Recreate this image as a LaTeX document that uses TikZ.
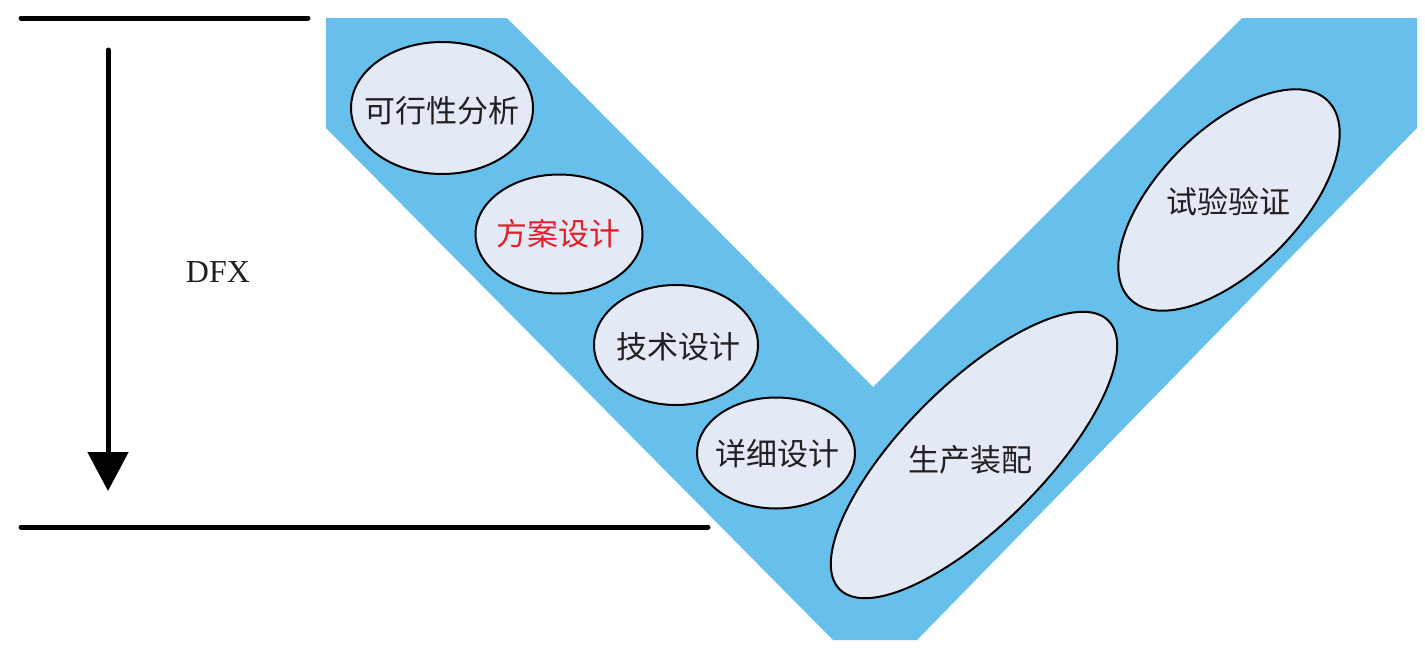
\documentclass[tikz,border=0pt]{standalone}
\usepackage{fontspec}
\setmainfont{Liberation Serif}
\newfontfamily\cjk{Noto Sans CJK SC}
\usepackage{xcolor}
\usetikzlibrary{arrows.meta}
\usetikzlibrary{shapes.geometric}
\definecolor{vband}{RGB}{103,192,235}
\definecolor{vfill}{RGB}{228,234,245}
\definecolor{vred}{RGB}{226,32,44}
\definecolor{vtext}{RGB}{35,31,32}

\begin{document}
\begin{tikzpicture}[x=0.5pt,y=-0.5pt,
        phase/.style={ellipse,draw=black,line width=1pt,fill=vfill,inner sep=0pt},
        phasetext/.style={font=\cjk\fontsize{15.5}{18}\selectfont,text=vtext,inner sep=0pt},
        rule/.style={line width=2.5pt,line cap=round}]
        \useasboundingbox (0,0) rectangle (1425,648);
        % the V band
        \fill[vband] (326,18) -- (507,18) -- (873,387) -- (1242,18) -- (1417,18) -- (1417,128)
            -- (917,640) -- (833,640) -- (326,128) -- cycle;
        % upper and lower levels, DFX arrow
        \coordinate (topl) at (21,18);
        \coordinate (topr) at (308,18);
        \coordinate (botl) at (21,527);
        \coordinate (botr) at (708,527);
        \coordinate (arrs) at (108,50);
        \coordinate (arre) at (108,491);
        \draw[rule] (topl) -- (topr);
        \draw[rule] (botl) -- (botr);
        \draw[line width=2.5pt,line cap=round,-{Triangle[width=20pt,length=19.5pt]}] (arrs) -- (arre);
        \node[text=vtext,font=\fontsize{16}{19}\selectfont] (dfx) at (218,272) {DFX};
        % left arm
        \node[phase,minimum width=91pt,minimum height=66pt] (kx) at (442,108) {};
        \node[phase,minimum width=83.5pt,minimum height=59.5pt] (fa) at (559,234) {};
        \node[phase,minimum width=82pt,minimum height=60pt] (js) at (676,345) {};
        \node[phase,minimum width=79pt,minimum height=55.5pt] (xx) at (776,453) {};
        % right arm
        \node[phase,rotate=45,minimum width=190pt,minimum height=70pt] (sc) at (974,455) {};
        \node[phase,rotate=45,minimum width=140pt,minimum height=70pt] (sy) at (1229,200) {};
        \node[phasetext] (kxt) at (442,111) {可行性分析};
        \node[phasetext,text=vred] (fat) at (558,234) {方案设计};
        \node[phasetext] (jst) at (678,347) {技术设计};
        \node[phasetext] (xxt) at (777,454) {详细设计};
        \node[phasetext] (sct) at (970,460) {生产装配};
        \node[phasetext] (syt) at (1228,202) {试验验证};
    \end{tikzpicture}
\end{document}
